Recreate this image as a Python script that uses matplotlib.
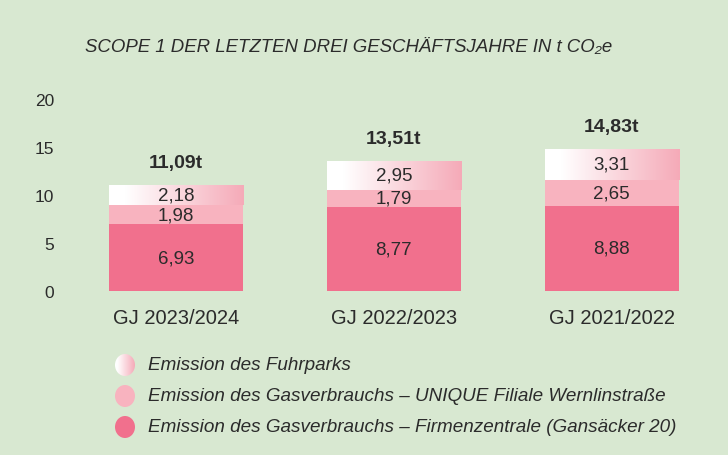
"""
Scope-1 emissions of the last three fiscal years, stacked bars with gradient top segment.
"""
import numpy as np
import matplotlib
matplotlib.use("Agg")
import matplotlib.pyplot as plt
from matplotlib.colors import LinearSegmentedColormap
from matplotlib.patches import Ellipse

# ── Data ────────────────────────────────────────────────────────────────────
years = ["GJ 2023/2024", "GJ 2022/2023", "GJ 2021/2022"]
firmenzentrale = [6.93, 8.77, 8.88]
filiale = [1.98, 1.79, 2.65]
fuhrpark = [2.18, 2.95, 3.31]
totals = ["11,09t", "13,51t", "14,83t"]
y_ticks = [0, 5, 10, 15, 20]
legend_labels = [
    "Emission des Fuhrparks",
    "Emission des Gasverbrauchs – UNIQUE Filiale Wernlinstraße",
    "Emission des Gasverbrauchs – Firmenzentrale (Gansäcker 20)",
]

# ── Colours ────────────────────────────────────────────────────────────────
BG = "#d8e8d1"
PINK_DARK = "#f1708d"
PINK_LIGHT = "#f8b3bf"
PINK_GRAD_END = "#f5aab8"
TEXT = "#2b2b2b"

FONT = ["Liberation Sans", "DejaVu Sans"]
plt.rcParams.update({"font.family": FONT})

grad_cmap = LinearSegmentedColormap.from_list(
    "fuhrpark", [(0.0, "#ffffff"), (0.12, "#ffffff"), (1.0, PINK_GRAD_END)]
)
grad = np.linspace(0, 1, 256).reshape(1, -1)


def fmt(v):
    return f"{v:.2f}".replace(".", ",")


fig = plt.figure(figsize=(7.28, 4.56), dpi=100, facecolor=BG)
ax = fig.add_axes([0.092, 0.3596, 0.898, 0.4211], facecolor=BG)

x = np.arange(len(years))
width = 0.615
bottom2 = np.array(firmenzentrale)
bottom3 = bottom2 + np.array(filiale)

b1 = ax.bar(x, firmenzentrale, width, color=PINK_DARK, edgecolor="none")
b2 = ax.bar(x, filiale, width, bottom=bottom2, color=PINK_LIGHT, edgecolor="none")
b3 = ax.bar(x, fuhrpark, width, bottom=bottom3, color="none", edgecolor="none")

# gradient fill of the top segment
for rect in b3:
    x0, y0 = rect.get_x(), rect.get_y()
    im = ax.imshow(grad, cmap=grad_cmap, aspect="auto", interpolation="bilinear",
                   extent=(x0, x0 + rect.get_width(), y0, y0 + rect.get_height()),
                   zorder=rect.get_zorder())
    im.set_clip_path(rect)

for bars, vals in [(b1, firmenzentrale), (b2, filiale), (b3, fuhrpark)]:
    for rect, v in zip(bars, vals):
        ax.text(rect.get_x() + rect.get_width() / 2, rect.get_y() + rect.get_height() / 2,
                fmt(v), ha="center", va="center", fontsize=13.5, color=TEXT)

for xi, top, lab in zip(x, bottom3 + np.array(fuhrpark), totals):
    ax.annotate(lab, (xi, top), xytext=(0, 10), textcoords="offset points",
                ha="center", va="bottom", fontsize=14, fontweight="bold", color=TEXT,
                annotation_clip=False)

ax.set_xlim(-0.5, 2.5)
ax.set_ylim(0, 20)
ax.set_yticks(y_ticks)
ax.set_xticks(x)
ax.set_xticklabels(years)
ax.tick_params(axis="both", length=0, labelsize=12.5, labelcolor=TEXT)
ax.tick_params(axis="x", labelsize=14.5, pad=12)
ax.tick_params(axis="y", pad=9)
for s in ax.spines.values():
    s.set_visible(False)

fig.text(0.117, 0.895, "SCOPE 1 DER LETZTEN DREI GESCHÄFTSJAHRE IN t CO₂e",
         fontsize=13.4, style="italic", color=TEXT, va="center")

# ── Legend with round markers ──────────────────────────────────────────────
lax = fig.add_axes([0, 0, 1, 1], facecolor="none")
lax.set_xlim(0, 728)
lax.set_ylim(456, 0)
lax.axis("off")
ys = [366, 397, 428]
for i, (yy, lab) in enumerate(zip(ys, legend_labels)):
    if i == 0:
        circ = Ellipse((125, yy), 20, 22, facecolor="none", edgecolor="none")
        lax.add_patch(circ)
        im = lax.imshow(grad, cmap=grad_cmap, aspect="auto", interpolation="bilinear",
                        extent=(115, 135, yy + 11, yy - 11))
        im.set_clip_path(circ)
    else:
        col = PINK_LIGHT if i == 1 else PINK_DARK
        lax.add_patch(Ellipse((125, yy), 20, 22, facecolor=col, edgecolor="none"))
    lax.text(148, yy, lab, fontsize=13.6, style="italic", color=TEXT, va="center")

fig.savefig("out.png", dpi=100, facecolor=BG)
